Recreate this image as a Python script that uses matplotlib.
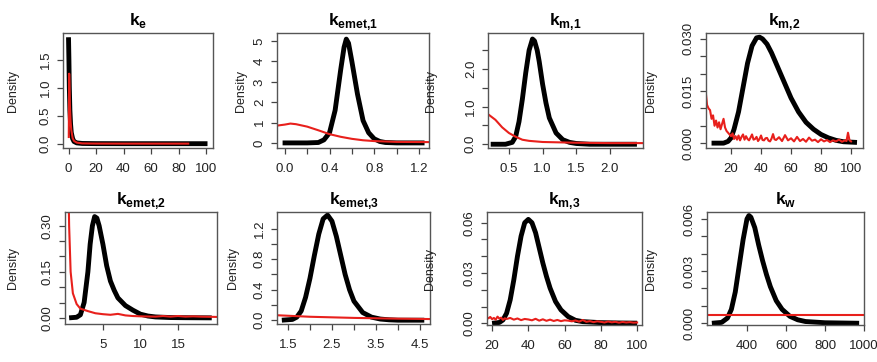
import matplotlib
matplotlib.use("Agg")
import matplotlib.pyplot as plt

plt.rcParams['font.family'] = ['Liberation Sans', 'DejaVu Sans']
plt.rcParams['mathtext.fontset'] = 'custom'
plt.rcParams['mathtext.rm'] = 'Liberation Sans'
plt.rcParams['mathtext.bf'] = 'Liberation Sans:bold'

# ---- data: posterior (black) and prior (red) densities ----
ke_post_x = [0, 0.3, 0.6, 1, 1.5, 2, 3, 4, 6, 10, 20, 40, 60, 80, 101]
ke_post_y = [1.9, 1.5, 1.0, 0.6, 0.35, 0.2, 0.09, 0.04, 0.015, 0.005, 0.002, 0.001, 0.001, 0.001, 0.001]
ke_prior_x = [0.2, 0.5, 1, 1.5, 2, 3, 4, 6, 10, 20, 40, 60, 87]
ke_prior_y = [0.12, 1.25, 0.7, 0.4, 0.25, 0.1, 0.05, 0.02, 0.006, 0.003, 0.002, 0.002, 0.002]

kemet1_post_x = [-0.02, 0.2, 0.3, 0.35, 0.4, 0.45, 0.5, 0.53, 0.55, 0.57, 0.6, 0.65, 0.7, 0.75, 0.8, 0.85, 0.9, 1.0, 1.25]
kemet1_post_y = [0, 0, 0.02, 0.15, 0.5, 1.6, 3.6, 4.7, 5.1, 4.9, 4.0, 2.4, 1.1, 0.5, 0.2, 0.07, 0.02, 0, 0]
kemet1_prior_x = [-0.07, 0.0, 0.05, 0.1, 0.2, 0.3, 0.4, 0.5, 0.6, 0.7, 0.8, 0.9, 1.0, 1.29]
kemet1_prior_y = [0.85, 0.9, 0.95, 0.92, 0.8, 0.62, 0.43, 0.3, 0.2, 0.13, 0.09, 0.07, 0.05, 0.04]

km1_post_x = [0.23, 0.45, 0.55, 0.6, 0.65, 0.7, 0.75, 0.8, 0.85, 0.88, 0.92, 0.95, 1.0, 1.05, 1.1, 1.2, 1.3, 1.4, 1.5, 1.7, 2.4]
km1_post_y = [0, 0, 0.05, 0.2, 0.6, 1.2, 1.9, 2.5, 2.8, 2.75, 2.5, 2.2, 1.6, 1.1, 0.7, 0.3, 0.12, 0.05, 0.02, 0, 0]
km1_prior_x = [0.19, 0.3, 0.4, 0.5, 0.6, 0.7, 0.8, 1.0, 1.5, 2.0, 2.49]
km1_prior_y = [0.8, 0.65, 0.45, 0.3, 0.2, 0.12, 0.09, 0.06, 0.04, 0.03, 0.03]

km2_post_x = [7, 15, 18, 20, 22, 25, 28, 31, 34, 37, 39, 41, 44, 47, 50, 55, 60, 65, 70, 75, 80, 85, 90, 95, 104]
km2_post_y = [0, 0, 0.0005, 0.0015, 0.004, 0.009, 0.016, 0.023, 0.028, 0.0303, 0.0305, 0.030, 0.0285, 0.026, 0.023,
              0.018, 0.013, 0.009, 0.006, 0.004, 0.0025, 0.0015, 0.0008, 0.0004, 0.0002]
km2_prior_x = [3.3, 4, 5, 6, 7, 8, 9, 10, 11, 12, 13, 14, 15, 16, 17, 18, 19, 20, 21, 22, 23, 24, 25, 26, 27, 28, 29,
               30, 31, 32, 33, 34, 35, 36, 37, 38, 39, 40, 41, 42, 43, 44, 45, 46, 47, 48, 49, 50, 52, 54, 56, 58, 60,
               62, 64, 66, 68, 70, 72, 74, 76, 78, 80, 82, 84, 86, 88, 90, 92, 94, 96, 97, 98, 99, 100]
km2_prior_y = [0.014, 0.011, 0.010, 0.0095, 0.007, 0.008, 0.005, 0.0065, 0.0045, 0.006, 0.004, 0.0055, 0.007, 0.0045,
               0.0035, 0.003, 0.0025, 0.002, 0.0028, 0.0012, 0.002, 0.001, 0.0022, 0.0008, 0.0018, 0.0025, 0.001,
               0.002, 0.0012, 0.0008, 0.0016, 0.0025, 0.001, 0.0012, 0.0018, 0.0006, 0.0012, 0.0022, 0.0009, 0.0008,
               0.0014, 0.0015, 0.0007, 0.0005, 0.0013, 0.0026, 0.0011, 0.0009, 0.0017, 0.0006, 0.0023, 0.0008, 0.0014,
               0.0005, 0.0018, 0.0006, 0.0012, 0.0004, 0.0016, 0.0007, 0.001, 0.0003, 0.0011, 0.0005, 0.0009, 0.0003,
               0.0008, 0.0005, 0.001, 0.0004, 0.0008, 0.0006, 0.003, 0.0008, 0.0005]

kemet2_post_x = [0.5, 1.5, 2, 2.5, 3, 3.3, 3.6, 3.9, 4.2, 4.5, 5, 5.5, 6, 6.5, 7, 8, 9, 10, 11, 12, 14, 16, 19.5]
kemet2_post_y = [0, 0.002, 0.01, 0.05, 0.15, 0.24, 0.30, 0.33, 0.325, 0.30, 0.24, 0.17, 0.12, 0.09, 0.065, 0.04,
                 0.025, 0.012, 0.006, 0.003, 0.001, 0.0005, 0]
kemet2_prior_x = [0.3, 0.5, 0.7, 1, 1.5, 2, 3, 4, 5, 6, 7, 8, 9, 10, 12, 13, 14, 15, 16, 17, 18, 20.2]
kemet2_prior_y = [0.6, 0.3, 0.15, 0.08, 0.045, 0.03, 0.022, 0.015, 0.012, 0.01, 0.013, 0.008, 0.006, 0.005, 0.004,
                  0.006, 0.004, 0.006, 0.004, 0.005, 0.004, 0.003]

kemet3_post_x = [1.36, 1.6, 1.7, 1.8, 1.9, 2.0, 2.1, 2.2, 2.3, 2.4, 2.5, 2.6, 2.7, 2.8, 2.9, 3.0, 3.2, 3.4, 3.6, 3.8, 4.0, 4.6]
kemet3_post_y = [0, 0.01, 0.04, 0.12, 0.3, 0.55, 0.85, 1.13, 1.33, 1.38, 1.3, 1.1, 0.85, 0.6, 0.4, 0.25, 0.1, 0.04,
                 0.015, 0.005, 0, 0]
kemet3_prior_x = [1.25, 2.0, 3.0, 4.0, 4.73]
kemet3_prior_y = [0.065, 0.045, 0.03, 0.02, 0.015]

km3_post_x = [20, 24, 26, 28, 30, 32, 34, 36, 38, 40, 42, 44, 46, 48, 50, 52, 55, 58, 62, 66, 70, 80, 90, 100]
km3_post_y = [0, 0.0005, 0.002, 0.006, 0.014, 0.026, 0.040, 0.052, 0.060, 0.062, 0.060, 0.054, 0.045, 0.036, 0.028,
              0.021, 0.013, 0.008, 0.004, 0.0018, 0.001, 0.0004, 0.0002, 0.0001]
km3_prior_x = [17.2, 18, 19, 20, 21, 22, 23, 24, 25, 26, 27, 28, 30, 32, 34, 36, 38, 40, 42, 44, 46, 48, 50, 52, 54,
               56, 58, 60, 62, 64, 66, 68, 70, 72, 74, 76, 78, 80, 82, 84, 86, 88, 90, 92, 94, 96, 98, 100]
km3_prior_y = [0.0035, 0.003, 0.0038, 0.0025, 0.0032, 0.0022, 0.004, 0.0028, 0.0034, 0.002, 0.003, 0.0026, 0.0032,
               0.0022, 0.0029, 0.0019, 0.0026, 0.0023, 0.0018, 0.0027, 0.0016, 0.0024, 0.0015, 0.0022, 0.0014, 0.002,
               0.0013, 0.0018, 0.0016, 0.0012, 0.0017, 0.001, 0.002, 0.0009, 0.0013, 0.0007, 0.0012, 0.0009, 0.0005,
               0.0011, 0.0006, 0.0009, 0.0004, 0.0008, 0.0005, 0.0007, 0.0004, 0.0005]

kw_post_x = [220, 270, 300, 320, 340, 360, 380, 400, 410, 420, 440, 460, 480, 500, 520, 550, 580, 620, 660, 700, 800, 975]
kw_post_y = [0, 0.00005, 0.0003, 0.0008, 0.0018, 0.0033, 0.0048, 0.0060, 0.0062, 0.0061, 0.0055, 0.0045, 0.0036,
             0.0028, 0.0021, 0.0013, 0.0008, 0.0004, 0.0002, 0.0001, 0.00003, 0]
kw_prior_x = [195, 1000]
kw_prior_y = [0.00047, 0.00047]

titles = [r'$\mathbf{k}_{\mathbf{e}}$', r'$\mathbf{k}_{\mathbf{emet{,}1}}$', r'$\mathbf{k}_{\mathbf{m{,}1}}$',
          r'$\mathbf{k}_{\mathbf{m{,}2}}$', r'$\mathbf{k}_{\mathbf{emet{,}2}}$', r'$\mathbf{k}_{\mathbf{emet{,}3}}$',
          r'$\mathbf{k}_{\mathbf{m{,}3}}$', r'$\mathbf{k}_{\mathbf{w}}$']

W, H = 878, 362


def fmt(vals, shown, nd):
    return [f"{v:.{nd}f}" if any(abs(v - s) < 1e-9 for s in shown) else "" for v in vals]


panels = [
    # box in pixels (left, top, right, bottom), ylabel x pixel, limits, ticks
    dict(post=(ke_post_x, ke_post_y), prior=(ke_prior_x, ke_prior_y), box=(63, 33, 213, 148), lab=19,
         xlim=(-4, 105), ylim=(-0.076, 1.976),
         xt=[0, 20, 40, 60, 80, 100], xs=[0, 20, 40, 60, 80, 100], xd=0,
         yt=[0, 0.5, 1.0, 1.5], ys=[0, 0.5, 1.0, 1.5], yd=1),
    dict(post=(kemet1_post_x, kemet1_post_y), prior=(kemet1_prior_x, kemet1_prior_y), box=(277, 33, 429, 148), lab=247,
         xlim=(-0.07, 1.29), ylim=(-0.25, 5.4),
         xt=[0, 0.2, 0.4, 0.6, 0.8, 1.0, 1.2], xs=[0, 0.4, 0.8, 1.2], xd=1,
         yt=[0, 1, 2, 3, 4, 5], ys=[0, 1, 2, 3, 4, 5], yd=0),
    dict(post=(km1_post_x, km1_post_y), prior=(km1_prior_x, km1_prior_y), box=(488, 33, 643, 148), lab=437,
         xlim=(0.19, 2.49), ylim=(-0.1, 2.96),
         xt=[0.5, 1.0, 1.5, 2.0], xs=[0.5, 1.0, 1.5, 2.0], xd=1,
         yt=[0, 0.5, 1.0, 1.5, 2.0, 2.5], ys=[0, 1.0, 2.0], yd=1),
    dict(post=(km2_post_x, km2_post_y), prior=(km2_prior_x, km2_prior_y), box=(706, 33, 863, 148), lab=657,
         xlim=(3.3, 108), ylim=(-0.0014, 0.0317),
         xt=[20, 40, 60, 80, 100], xs=[20, 40, 60, 80, 100], xd=0,
         yt=[0, 0.005, 0.01, 0.015, 0.02, 0.025, 0.03], ys=[0, 0.015, 0.03], yd=3),
    dict(post=(kemet2_post_x, kemet2_post_y), prior=(kemet2_prior_x, kemet2_prior_y), box=(65, 212, 217, 324), lab=19,
         xlim=(-0.05, 20.2), ylim=(-0.02, 0.345),
         xt=[5, 10, 15], xs=[5, 10, 15], xd=0,
         yt=[0, 0.05, 0.1, 0.15, 0.2, 0.25, 0.3], ys=[0, 0.15, 0.3], yd=2),
    dict(post=(kemet3_post_x, kemet3_post_y), prior=(kemet3_prior_x, kemet3_prior_y), box=(277, 212, 430, 324), lab=239,
         xlim=(1.25, 4.73), ylim=(-0.05, 1.42),
         xt=[1.5, 2.0, 2.5, 3.0, 3.5, 4.0, 4.5], xs=[1.5, 2.5, 3.5, 4.5], xd=1,
         yt=[0, 0.2, 0.4, 0.6, 0.8, 1.0, 1.2], ys=[0, 0.4, 0.8, 1.2], yd=1),
    dict(post=(km3_post_x, km3_post_y), prior=(km3_prior_x, km3_prior_y), box=(487, 212, 642, 325), lab=436,
         xlim=(17.2, 102.7), ylim=(-0.001, 0.0664),
         xt=[20, 40, 60, 80, 100], xs=[20, 40, 60, 80, 100], xd=0,
         yt=[0, 0.01, 0.02, 0.03, 0.04, 0.05, 0.06], ys=[0, 0.03, 0.06], yd=2),
    dict(post=(kw_post_x, kw_post_y), prior=(kw_prior_x, kw_prior_y), box=(707, 212, 864, 325), lab=657,
         xlim=(195, 1000), ylim=(-0.0001, 0.0064),
         xt=[400, 600, 800, 1000], xs=[400, 600, 800, 1000], xd=0,
         yt=[0, 0.001, 0.002, 0.003, 0.004, 0.005, 0.006], ys=[0, 0.003, 0.006], yd=3),
]

fig = plt.figure(figsize=(W / 100, H / 100), dpi=100)

for p, title in zip(panels, titles):
    l, t, r, b = p['box']
    ax = fig.add_axes([l / W, 1 - b / H, (r - l) / W, (b - t) / H])
    ax.plot(*p['post'], color='black', lw=3.5, solid_capstyle='butt', solid_joinstyle='round')
    ax.plot(*p['prior'], color='#e8201c', lw=1.5, solid_joinstyle='round')
    ax.set_xlim(*p['xlim'])
    ax.set_ylim(*p['ylim'])
    ax.set_xticks(p['xt'])
    ax.set_xticklabels(fmt(p['xt'], p['xs'], p['xd']))
    ax.set_yticks(p['yt'])
    ax.set_yticklabels(fmt(p['yt'], p['ys'], p['yd']), rotation=90, va='center')
    ax.tick_params(axis='both', length=4, width=0.9, color='#444444', labelsize=9.5, labelcolor='#222222')
    ax.tick_params(axis='x', pad=7)
    ax.tick_params(axis='y', pad=4)
    for s in ax.spines.values():
        s.set_color('#555555')
        s.set_linewidth(1.0)
    ax.set_ylabel('Density', fontsize=9, color='#222222')
    ax.yaxis.set_label_coords((p['lab'] - l) / (r - l), 0.5)
    ax.set_title(title, fontsize=12.5, pad=6)

fig.savefig('out.png', dpi=100)
